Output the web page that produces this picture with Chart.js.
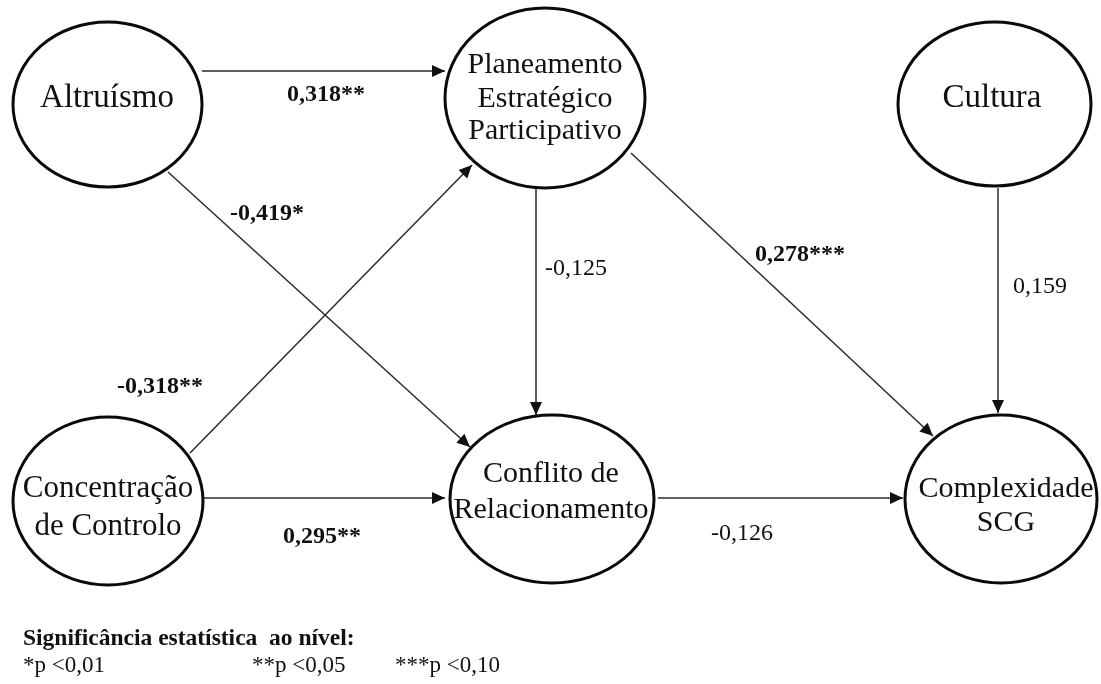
<!DOCTYPE html>
<html>
<head>
<meta charset="utf-8">
<script src="https://cdn.jsdelivr.net/npm/chart.js@4/dist/chart.umd.min.js"></script>
<style>
  html, body { margin: 0; padding: 0; background: #ffffff; }
  canvas { display: block; }
</style>
</head>
<body>
<canvas id="diagram" width="1101" height="684"></canvas>
<script>
// Constructs of the structural model
const constructs = [
  'Altruísmo',
  'Planeamento Estratégico Participativo',
  'Cultura',
  'Concentração de Controlo',
  'Conflito de Relacionamento',
  'Complexidade SCG'
];

// Structural paths: source, target, standardised coefficient, significance stars
const pathFrom = [
  'Altruísmo', 'Altruísmo', 'Concentração de Controlo',
  'Planeamento Estratégico Participativo', 'Planeamento Estratégico Participativo',
  'Cultura', 'Concentração de Controlo', 'Conflito de Relacionamento'
];
const pathTo = [
  'Planeamento Estratégico Participativo', 'Conflito de Relacionamento',
  'Planeamento Estratégico Participativo', 'Conflito de Relacionamento',
  'Complexidade SCG', 'Complexidade SCG', 'Conflito de Relacionamento', 'Complexidade SCG'
];
const pathCoefficients = [0.318, -0.419, -0.318, -0.125, 0.278, 0.159, 0.295, -0.126];
const pathStars = [2, 1, 2, 0, 3, 0, 2, 0];

// Significance legend
const legendTitle = 'Significância estatística  ao nível:';
const significanceLevels = ['*p <0,01', '**p <0,05', '***p <0,10'];

// ---- layout (diagram units equal canvas pixels) ----
const nodeLayout = {
  'Altruísmo': { cx: 107.5, cy: 104.5, rx: 94.5, ry: 82.5, size: 33,
    lines: ['Altruísmo'], tx: 107, baselines: [107] },
  'Planeamento Estratégico Participativo': { cx: 545, cy: 98, rx: 100, ry: 90, size: 30,
    lines: ['Planeamento', 'Estratégico', 'Participativo'], tx: 545, baselines: [73, 107, 139] },
  'Cultura': { cx: 994.5, cy: 104, rx: 96.5, ry: 82, size: 33,
    lines: ['Cultura'], tx: 992, baselines: [107] },
  'Concentração de Controlo': { cx: 108, cy: 501, rx: 95, ry: 84, size: 31,
    lines: ['Concentração', 'de Controlo'], tx: 108, baselines: [497, 535] },
  'Conflito de Relacionamento': { cx: 552, cy: 499, rx: 102, ry: 84, size: 30,
    lines: ['Conflito de', 'Relacionamento'], tx: 551, baselines: [482, 518] },
  'Complexidade SCG': { cx: 1001, cy: 499, rx: 96, ry: 84, size: 30,
    lines: ['Complexidade', 'SCG'], tx: 1006, baselines: [497, 531] }
};

// Start / arrow-tip anchors of each path and where its coefficient sits
const pathLayout = [
  { a: [202, 71],  b: [445, 71],  lx: 326,  ly: 101 },
  { a: [168, 172], b: [470, 447], lx: 267,  ly: 220 },
  { a: [190, 453], b: [472, 165], lx: 160,  ly: 393 },
  { a: [536, 188], b: [536, 415], lx: 576,  ly: 275 },
  { a: [631, 153], b: [933, 436], lx: 800,  ly: 261 },
  { a: [998, 188], b: [998, 413], lx: 1040, ly: 293 },
  { a: [203, 498], b: [445, 498], lx: 322,  ly: 543 },
  { a: [658, 498], b: [903, 498], lx: 742,  ly: 540 }
];

const legendLayout = { x: 23, titleY: 645, rowY: 672, columns: [23, 252, 395] };

const SERIF = '"Liberation Serif", "Times New Roman", serif';
const EDGE_COLOR = '#2a2a2a';

function formatCoefficient(v, stars) {
  return v.toFixed(3).replace('.', ',') + '*'.repeat(stars);
}

// One line dataset per structural path
const datasets = pathCoefficients.map((v, i) => {
  const L = pathLayout[i];
  return {
    label: pathFrom[i] + ' → ' + pathTo[i],
    data: [{ x: L.a[0], y: L.a[1] }, { x: L.b[0], y: L.b[1] }],
    showLine: true,
    borderColor: EDGE_COLOR,
    borderWidth: 1.5,
    pointRadius: 0,
    pointHoverRadius: 0,
    fill: false,
    tension: 0
  };
});

const pathDiagramPlugin = {
  id: 'pathDiagram',
  afterDatasetsDraw(chart) {
    const ctx = chart.ctx;
    const xs = chart.scales.x, ys = chart.scales.y;
    const px = v => xs.getPixelForValue(v);
    const py = v => ys.getPixelForValue(v);

    ctx.save();

    // arrowheads at the target end of each path
    pathLayout.forEach(L => {
      const x1 = px(L.a[0]), y1 = py(L.a[1]);
      const x2 = px(L.b[0]), y2 = py(L.b[1]);
      const ang = Math.atan2(y2 - y1, x2 - x1);
      const len = 13, half = 6;
      ctx.beginPath();
      ctx.moveTo(x2, y2);
      ctx.lineTo(x2 - len * Math.cos(ang) + half * Math.sin(ang), y2 - len * Math.sin(ang) - half * Math.cos(ang));
      ctx.lineTo(x2 - len * Math.cos(ang) - half * Math.sin(ang), y2 - len * Math.sin(ang) + half * Math.cos(ang));
      ctx.closePath();
      ctx.fillStyle = '#111111';
      ctx.fill();
    });

    // construct ellipses and their names
    constructs.forEach(name => {
      const n = nodeLayout[name];
      const cx = px(n.cx), cy = py(n.cy);
      const rx = Math.abs(px(n.cx + n.rx) - cx);
      const ry = Math.abs(py(n.cy + n.ry) - cy);
      ctx.beginPath();
      ctx.ellipse(cx, cy, rx, ry, 0, 0, Math.PI * 2);
      ctx.fillStyle = '#ffffff';
      ctx.fill();
      ctx.lineWidth = 3;
      ctx.strokeStyle = '#0a0a0a';
      ctx.stroke();

      ctx.fillStyle = '#111111';
      ctx.font = n.size + 'px ' + SERIF;
      ctx.textAlign = 'center';
      ctx.textBaseline = 'alphabetic';
      n.lines.forEach((t, k) => ctx.fillText(t, px(n.tx), py(n.baselines[k])));
    });

    // path coefficients: bold when significant
    pathCoefficients.forEach((v, i) => {
      const L = pathLayout[i];
      ctx.font = (pathStars[i] > 0 ? 'bold ' : '') + '24px ' + SERIF;
      ctx.fillStyle = '#111111';
      ctx.textAlign = 'center';
      ctx.textBaseline = 'alphabetic';
      ctx.fillText(formatCoefficient(v, pathStars[i]), px(L.lx), py(L.ly));
    });

    // significance legend
    ctx.textAlign = 'left';
    ctx.font = 'bold 23.5px ' + SERIF;
    ctx.fillText(legendTitle, legendLayout.x, legendLayout.titleY);
    ctx.font = '23px ' + SERIF;
    significanceLevels.forEach((t, k) => ctx.fillText(t, legendLayout.columns[k], legendLayout.rowY));

    ctx.restore();
  }
};

new Chart(document.getElementById('diagram'), {
  type: 'scatter',
  data: { datasets },
  options: {
    responsive: false,
    animation: false,
    events: [],
    layout: { padding: 0 },
    plugins: { legend: { display: false }, tooltip: { enabled: false } },
    scales: {
      x: { type: 'linear', min: 0, max: 1101, display: false },
      y: { type: 'linear', min: 0, max: 684, reverse: true, display: false }
    }
  },
  plugins: [pathDiagramPlugin]
});
</script>
</body>
</html>
